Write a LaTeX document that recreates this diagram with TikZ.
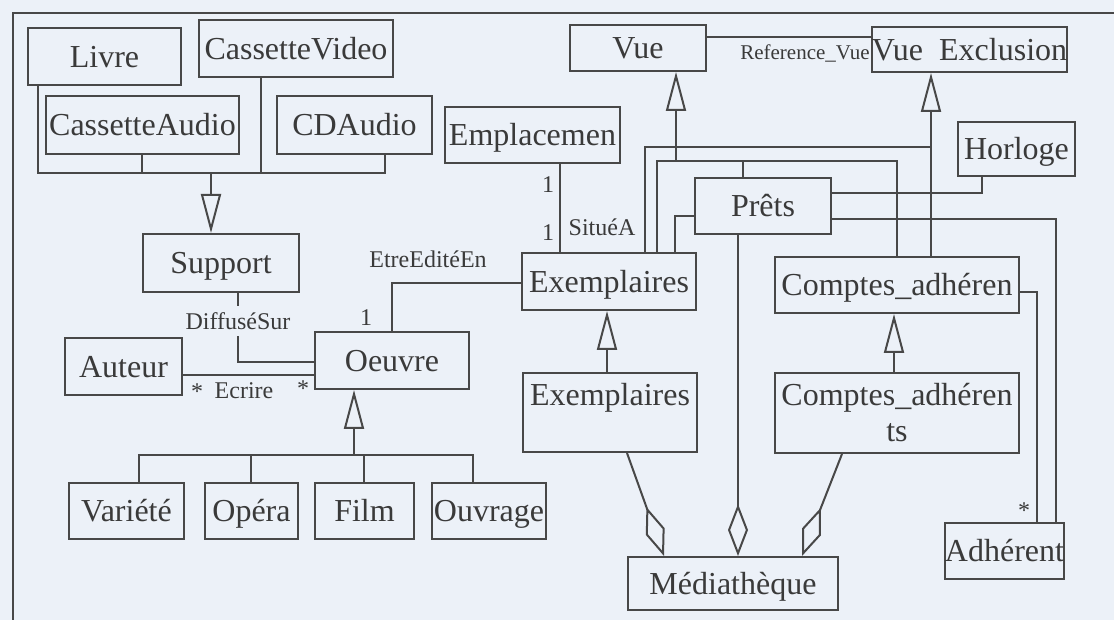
\documentclass[tikz,border=0pt]{standalone}
\usepackage{fontspec}
\setmainfont{Liberation Serif}
\usetikzlibrary{arrows.meta}
\definecolor{paper}{RGB}{236,241,248}
\definecolor{ink}{RGB}{72,72,72}
\definecolor{txt}{RGB}{58,58,58}

\begin{document}
\begin{tikzpicture}[x=0.5bp,y=-0.5bp,
  box/.style={draw=ink, line width=1bp, fill=paper, text=txt,
    font=\fontsize{16bp}{18bp}\selectfont, inner sep=0pt, align=center,
    text height=13bp, text depth=2bp},
  twoline/.style={text height=31bp, text depth=2bp},
  conn/.style={draw=ink, line width=1bp},
  gen/.style={conn, -{Triangle[length=19.5bp,width=10bp,fill=paper]}},
  agg/.style={conn, -{Diamond[length=26bp,width=10bp,fill=paper]}},
  lbl/.style={text=txt, font=\fontsize{12bp}{14bp}\selectfont, inner sep=1bp}]

\fill[paper] (0,0) rectangle (1114,620);
\useasboundingbox (0,0) rectangle (1114,620);

% page frame
\draw[conn] (13,620) -- (13,13) -- (1114,13);

% classes
\node[box, minimum width=76.5bp, minimum height=28.5bp] (livre)   at (104.5,56.5) {Livre};
\node[box, minimum width=97bp,   minimum height=28.5bp] (cvideo)  at (296,48.5)   {CassetteVideo};
\node[box, minimum width=96.5bp, minimum height=29bp]   (caudio)  at (142.5,125)  {CassetteAudio};
\node[box, minimum width=77.5bp, minimum height=29bp]   (cdaudio) at (354.5,125)  {CDAudio};
\node[box, minimum width=87.5bp, minimum height=28bp]   (emplac)  at (532.5,135)  {Emplacemen};
\node[box, minimum width=68bp,   minimum height=23bp]   (vue)     at (638,48)     {Vue};
\node[box, minimum width=90.5bp, minimum height=22.5bp] (vueex)   at (969.5,49.5) {Vue\ \ Exclusion};
\node[box, minimum width=58.5bp, minimum height=27bp]   (horloge) at (1016.5,149) {Horloge};
\node[box, minimum width=68bp,   minimum height=28bp]   (prets)   at (763,206)    {Prêts};
\node[box, minimum width=78bp,   minimum height=29bp]   (support) at (221,263)    {Support};
\node[box, minimum width=87bp,   minimum height=28.5bp] (exa)     at (609,281.5)  {Exemplaires};
\node[box, minimum width=122bp,  minimum height=28bp]   (cpa)     at (897,285)    {Comptes\_adhéren};
\node[box, minimum width=58.5bp, minimum height=28.5bp] (auteur)  at (123.5,366.5) {Auteur};
\node[box, minimum width=77bp,   minimum height=28.5bp] (oeuvre)  at (392,360.5)  {Oeuvre};
\node[box, twoline, minimum width=87bp,  minimum height=39.5bp] (exb) at (610,412.5) {Exemplaires\\\strut};
\node[box, twoline, minimum width=122bp, minimum height=40bp]   (cpb) at (897,413)   {Comptes\_adhéren\\ts};
\node[box, minimum width=57.5bp, minimum height=28bp]   (variete) at (126.5,511)  {Variété};
\node[box, minimum width=46.5bp, minimum height=28bp]   (opera)   at (251.5,511)  {Opéra};
\node[box, minimum width=49.5bp, minimum height=28bp]   (film)    at (364.5,511)  {Film};
\node[box, minimum width=57bp,   minimum height=28bp]   (ouvrage) at (489,511)    {Ouvrage};
\node[box, minimum width=105bp,  minimum height=26.5bp] (media)   at (733,583.5)  {Médiathèque};
\node[box, minimum width=58.5bp, minimum height=28bp]   (adherent) at (1004.5,551) {Adhérent};

% Support and its kinds
\coordinate (supbus) at (211,173);
\draw[conn] (livre.south -| 38,0) -- (38,173) -- (385,173) -- (cdaudio.south -| 385,0);
\draw[conn] (caudio.south -| 142,0) -- (142,173);
\draw[conn] (cvideo.south -| 261,0) -- (261,173);
\draw[gen] (supbus) -- (support.north -| supbus);

% DiffuseSur
\draw[conn] (support.south -| 238,0) -- (238,362) -- (oeuvre.west |- 0,362);
\node[lbl, fill=paper, inner ysep=3bp] (diffuse) at (238,321) {DiffuséSur};

% Ecrire
\draw[conn] (auteur.east |- 0,375) -- (oeuvre.west |- 0,375);
\node[lbl] (ecA) at (197,392) {*};
\node[lbl] (ecrire) at (244,391) {Ecrire};
\node[lbl] (ecB) at (303,389) {*};

% EtreEditeEn
\draw[conn] (oeuvre.north -| 392,0) -- (392,283) -- (exa.west |- 0,283);
\node[lbl] (eeeA) at (366,318) {1};
\node[lbl] (eee) at (428,259) {EtreEditéEn};

% SitueA
\draw[conn] (emplac.south -| 560,0) -- (exa.north -| 560,0);
\node[lbl] (saA) at (548,185) {1};
\node[lbl] (saB) at (548,233) {1};
\node[lbl] (situe) at (602,227) {SituéA};

% Vue and its kinds
\coordinate (vuebus) at (676,161);
\draw[conn] (exa.north -| 657,0) -- (657,161) -- (897,161) -- (cpa.north -| 897,0);
\draw[conn] (prets.north -| 743,0) -- (743,161);
\draw[gen] (vuebus) -- (vue.south -| vuebus);

% Vue Exclusion and its kinds
\coordinate (exbus) at (931,147);
\draw[conn] (exa.north -| 645,0) -- (645,147) -- (exbus);
\draw[gen] (cpa.north -| exbus) -- (vueex.south -| exbus);

% Reference_Vue
\draw[conn] (vue.east |- 0,37) -- (vueex.west |- 0,37);
\node[lbl, font=\fontsize{10.5bp}{12bp}\selectfont] (refvue) at (805,53) {Reference\_Vue};

% associations of Prets
\draw[conn] (prets.west |- 0,216) -- (675,216) -- (exa.north -| 675,0);
\draw[conn] (prets.east |- 0,193) -- (982,193) -- (horloge.south -| 982,0);
\draw[conn] (prets.east |- 0,219) -- (1056,219) -- (adherent.north -| 1056,0);
\draw[conn] (cpa.east |- 0,292) -- (1037,292) -- (adherent.north -| 1037,0);
\node[lbl] (adstar) at (1024,511) {*};

% specialisations
\draw[gen] (exb.north -| 607,0) -- (exa.south -| 607,0);
\draw[gen] (cpb.north -| 894,0) -- (cpa.south -| 894,0);

% Oeuvre and its kinds
\coordinate (oeubus) at (354,455);
\draw[conn] (variete.north -| 139,0) -- (139,455) -- (473,455) -- (ouvrage.north -| 473,0);
\draw[conn] (opera.north -| 251,0) -- (251,455);
\draw[conn] (film.north -| 364,0) -- (364,455);
\draw[gen] (oeubus) -- (oeuvre.south -| oeubus);

% Mediatheque aggregations
\draw[agg] (exb.south -| 627,0) -- (media.north -| 664,0);
\draw[agg] (prets.south -| 738,0) -- (media.north -| 738,0);
\draw[agg] (cpb.south -| 842,0) -- (media.north -| 802,0);

\end{tikzpicture}
\end{document}
